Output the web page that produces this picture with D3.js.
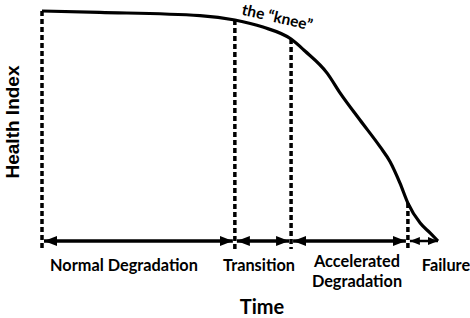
<!DOCTYPE html>
<html><head><meta charset="utf-8">
<script src="https://cdn.jsdelivr.net/npm/d3@7"></script>
<style>body{margin:0;background:#fff}svg{display:block}</style>
</head><body>
<svg id="c" width="470" height="318"></svg>
<script>
// Data (time 0..100, health index 0..100)
const curveTime   = [0, 14.6, 39.9, 48.7, 55.8, 62.9, 66.4, 72.0, 75.3, 80.3, 85.4, 87.9, 90.4, 92.4, 95.5, 98.0, 100];
const curveHealth = [100, 99.4, 98.0, 96.1, 93.0, 87.8, 82.6, 73.0, 64.3, 52.6, 40.9, 34.5, 25.2, 16.5, 7.8, 3.5, 0];
const phaseBounds = [0, 48.7, 62.9, 92.4, 100];
const phaseLabels = [["Normal Degradation"], ["Transition"], ["Accelerated", "Degradation"], ["Failure"]];
const xTitle = "Time";
const yTitle = "Health Index";
const kneeLabel = "the \u201Cknee\u201D";

const svg = d3.select("#c");
const x = d3.scaleLinear().domain([0, 100]).range([42, 438]);
const y = d3.scaleLinear().domain([0, 100]).range([241, 11]);
const pts = curveTime.map((t, i) => [t, curveHealth[i]]);
const interp = t => {
  for (let i = 1; i < pts.length; i++) if (t <= pts[i][0] + 1e-9) {
    const a = pts[i-1], b = pts[i];
    return a[1] + (b[1]-a[1]) * (t - a[0]) / (b[0]-a[0]);
  }
  return pts[pts.length-1][1];
};

const defs = svg.append("defs");
function marker(id, len, h) {
  defs.append("marker").attr("id", id).attr("markerUnits","userSpaceOnUse")
    .attr("markerWidth", len + 1).attr("markerHeight", h + 1).attr("refX", len).attr("refY", h / 2)
    .attr("orient","auto-start-reverse")
    .append("path").attr("d", `M0,0L${len},${h/2}L0,${h}Z`).attr("fill","#000");
}
marker("ah", 13, 10);
marker("ahs", 10, 8);

// dashed vertical boundaries
svg.selectAll("line.bound").data(phaseBounds.slice(0, 4)).join("line")
  .attr("class","bound")
  .attr("x1", d => x(d)).attr("x2", d => x(d))
  .attr("y1", d => y(interp(d))).attr("y2", y(0) + 8)
  .attr("stroke","#000").attr("stroke-width",3.5).attr("stroke-dasharray","5,3");

// curve
svg.append("path").datum(pts)
  .attr("d", d3.line().x(d => x(d[0])).y(d => y(d[1])).curve(d3.curveMonotoneX))
  .attr("fill","none").attr("stroke","#000").attr("stroke-width",3.2);

// double arrows
const segs = d3.pairs(phaseBounds);
const isShort = d => x(d[1]) - x(d[0]) < 40;
svg.selectAll("line.arr").data(segs).join("line")
  .attr("class","arr")
  .attr("x1", d => x(d[0]) + 2).attr("x2", d => x(d[1]) - (d[1] === 100 ? 0 : 2))
  .attr("y1", y(0)).attr("y2", y(0))
  .attr("stroke","#000").attr("stroke-width", d => isShort(d) ? 2.5 : 3.5)
  .attr("marker-start", d => isShort(d) ? "url(#ahs)" : "url(#ah)")
  .attr("marker-end", d => isShort(d) ? "url(#ahs)" : "url(#ah)");

// phase labels
const lblFont = "Lato, 'Open Sans', sans-serif";
const lblX = [124, 259, 357, 446];
segs.forEach((s, i) => {
  const lines = phaseLabels[i];
  const t = svg.append("text").attr("text-anchor","middle")
    .attr("font-family", lblFont).attr("font-weight","bold").attr("font-size",16.3).attr("fill","#000");
  lines.forEach((ln, j) => {
    t.append("tspan").attr("x", lblX[i])
      .attr("y", lines.length > 1 ? 267 + j * 20 : 271).text(ln);
  });
});

// axis titles
svg.append("text").attr("x", 262).attr("y", 314).attr("text-anchor","middle")
  .attr("font-family", lblFont).attr("font-weight","bold").attr("font-size",20).text(xTitle);
svg.append("text").attr("transform","translate(19,122) rotate(-90)").attr("text-anchor","middle")
  .attr("font-family","'Liberation Sans', Arial, sans-serif").attr("font-weight","bold").attr("font-size",19).text(yTitle);

// knee label
svg.append("text").attr("transform","translate(276,22.5) rotate(13)").attr("text-anchor","middle")
  .attr("font-family", lblFont).attr("font-weight","bold").attr("font-size",15.5).text(kneeLabel);
</script>
</body></html>
